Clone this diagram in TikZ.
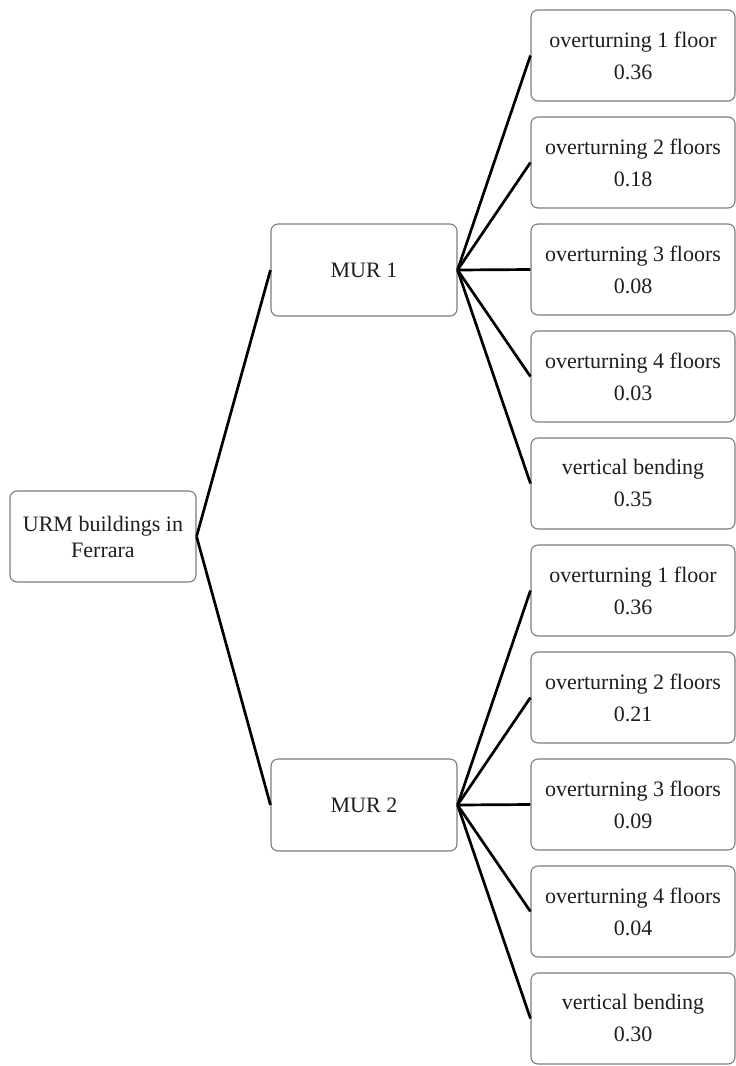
\documentclass[tikz,border=0pt]{standalone}
\usepackage{fontspec}
\setmainfont{Liberation Serif}
\usepackage{tikz}
\usetikzlibrary{calc}
\usepackage{xcolor}
\definecolor{boxgrey}{RGB}{125,125,125}
\definecolor{inkgrey}{RGB}{30,30,30}

\begin{document}
\begin{tikzpicture}[x=1pt, y=-1pt,
    treebox/.style={draw=boxgrey, line width=1.1pt, rounded corners=7pt, fill=white,
      text=inkgrey, align=center, inner sep=2pt},
    rootbox/.style={treebox, minimum width=186pt, minimum height=91pt,
      font=\fontsize{22}{26}\selectfont},
    murbox/.style={treebox, minimum width=186pt, minimum height=92pt,
      font=\fontsize{22}{26}\selectfont},
    leafbox/.style={treebox, minimum width=204pt, minimum height=91pt,
      font=\fontsize{22}{32}\selectfont},
    branch/.style={black, line width=2.7pt}]
        \useasboundingbox (0,0) rectangle (736,1066);

        % Root and the two classes
        \node[rootbox] (root) at (103,536.5) {URM buildings in\\Ferrara};
        \node[murbox] (mur1) at (364,270) {MUR 1};
        \node[murbox] (mur2) at (364,805) {MUR 2};

        % Mechanisms with probabilities
        \foreach \txt/\val [count=\i] in {overturning 1 floor/0.36,
            overturning 2 floors/0.18, overturning 3 floors/0.08,
            overturning 4 floors/0.03, vertical bending/0.35,
            overturning 1 floor/0.36, overturning 2 floors/0.21,
            overturning 3 floors/0.09, overturning 4 floors/0.04,
            vertical bending/0.30}{
          \node[leafbox] (leaf\i) at (633,{55.5+107*(\i-1)}) {\txt\\\val};
        }

        % Branches
        \draw[branch] (root.east) -- (mur1.west);
        \draw[branch] (root.east) -- (mur2.west);
        \foreach \i in {1,...,5}{
          \draw[branch] (mur1.east) -- (leaf\i.west);
        }
        \foreach \i in {6,...,10}{
          \draw[branch] (mur2.east) -- (leaf\i.west);
        }
      \end{tikzpicture}
\end{document}
